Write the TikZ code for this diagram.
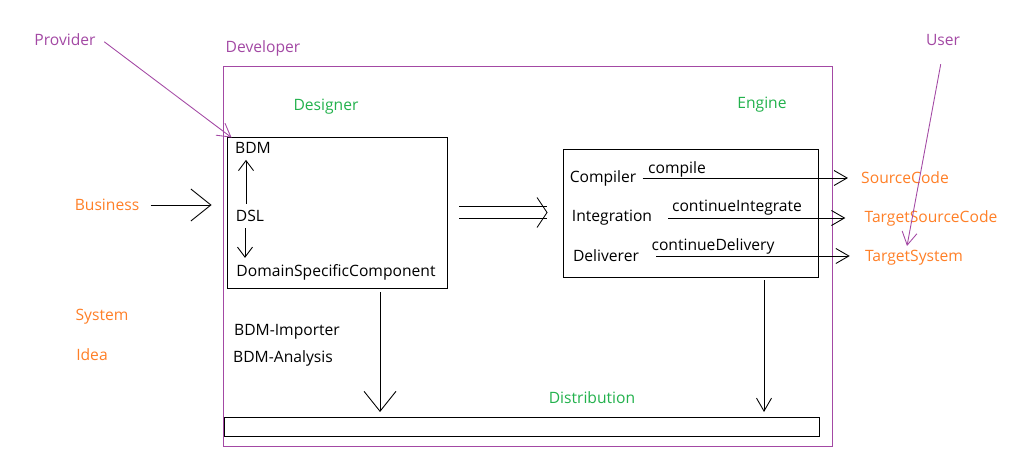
\documentclass[tikz,border=0pt]{standalone}
\usepackage{fontspec}
\setmainfont{Open Sans}
\usetikzlibrary{arrows.meta,fit}
\definecolor{paintviolet}{RGB}{163,73,164}
\definecolor{paintgreen}{RGB}{34,177,76}
\definecolor{paintorange}{RGB}{255,127,39}
\begin{document}
\begin{tikzpicture}[x=0.02cm, y=-0.02cm, line width=0.5pt,
    font=\fontsize{8.9}{10}\selectfont,
    box/.style = {draw, inner sep=0pt},
    role/.style = {text=paintviolet},
    part/.style = {text=paintgreen},
    item/.style = {text=paintorange},
    bigarr/.style = {-{Straight Barb[length=0.4cm, width=0.64cm, line width=0.5pt]}},
    arr/.style = {-{Straight Barb[length=0.26cm, width=0.3cm, line width=0.5pt]}},
    smallarr/.style = {-{Straight Barb[length=0.2cm, width=0.3cm, line width=0.5pt]}}]
\useasboundingbox (0,0) rectangle (1023,465);
% outer boxes
\node[box, paintviolet, fit={(223,66) (832,446)}] (developer) {};
\node[box, fit={(227,137) (447,288)}] (designer) {};
\node[box, fit={(563,149) (818,277)}] (engine) {};
\node[box, fit={(224,417) (819,436)}] (distribution) {};
% roles
\node[role] (provider) at (65,40) {Provider};
\node[role] (devlabel) at (263,48) {Developer};
\node[role] (user) at (943,40) {User};
% parts
\node[part] (designerlabel) at (326,107) {Designer};
\node[part] (enginelabel) at (762,105) {Engine};
\node[part] (distlabel) at (592,398) {Distribution};
% inputs
\node[item] (business) at (107,205) {Business};
\node[item] (system) at (102,317) {System};
\node[item] (idea) at (92,355) {Idea};
% designer content
\node (bdm) at (253,148) {BDM};
\node (dsl) at (250,216) {DSL};
\node (dsc) at (336,272) {DomainSpecificComponent};
\node (importer) at (287,332) {BDM-Importer};
\node (analysis) at (283,358) {BDM-Analysis};
% engine content
\node (compiler) at (603,178) {Compiler};
\node (integration) at (612,218) {Integration};
\node (deliverer) at (606,256) {Deliverer};
\node (compile) at (677,169) {compile};
\node (contint) at (737,208) {continueIntegrate};
\node (contdel) at (713,246) {continueDelivery};
% outputs
\node[item] (sourcecode) at (905,178) {SourceCode};
\node[item] (targetsource) at (931,218) {TargetSourceCode};
\node[item] (targetsystem) at (914,258) {TargetSystem};
\coordinate (userend) at (907,246);
\coordinate (down1) at (380,412);
\coordinate (down2) at (764,412);
% connectors
\draw[paintviolet, arr, shorten <=0.06cm] (provider.east) -- ([shift={(0.1cm,-0.02cm)}]designer.north west);
\draw[paintviolet, arr, shorten <=0.25cm] (user.south) -- (userend);
\draw[bigarr, shorten <=0.1cm, shorten >=0.3cm] (business.east) -- (designer.west |- business);
\draw[smallarr] ([xshift=-0.08cm]dsl.north) -- ([xshift=-0.08cm]dsl.north |- bdm.south);
\draw[smallarr] ([xshift=-0.1cm]dsl.south) -- ([xshift=-0.1cm]dsl.south |- dsc.north);
\draw[double, double distance=0.22cm, -{Straight Barb[length=0.2cm, width=0.6cm, line width=0.5pt]}, shorten <=0.24cm, shorten >=0.3cm] (designer.east) -- (engine.west |- designer.east);
\draw[arr, shorten >=0.14cm] (compiler.east) -- (sourcecode.west);
\draw[arr, shorten <=0.2cm, shorten >=0.26cm] (integration.east) -- (targetsource.west);
\draw[arr, shorten <=0.22cm, shorten >=0.18cm] (deliverer.east) -- (deliverer.east -| targetsystem.west);
\draw[bigarr, shorten <=0.08cm] (designer.south -| down1) -- (down1);
\draw[arr, shorten <=0.06cm] (engine.south -| down2) -- (down2);
\end{tikzpicture}
\end{document}
